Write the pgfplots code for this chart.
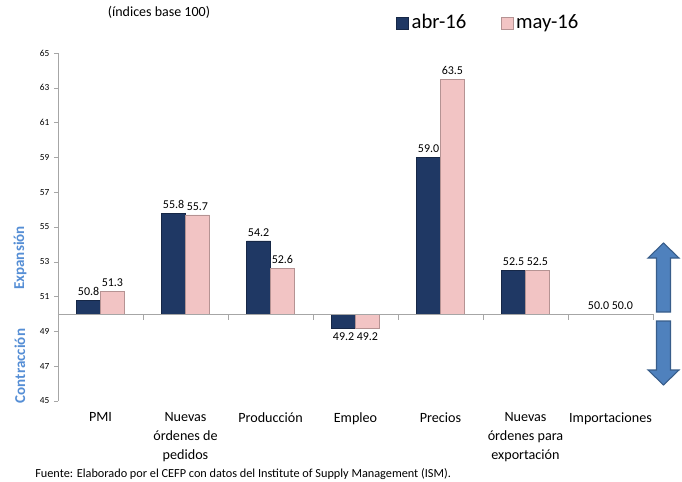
\documentclass[border=0pt]{standalone}
\usepackage{pgfplots}
\pgfplotsset{compat=1.18}
\usepackage{pgfplotstable}
\usepackage{fontspec}
\setmainfont{Carlito}

\definecolor{navy}{RGB}{31,56,100}
\definecolor{pinkb}{RGB}{242,196,196}
\definecolor{lblue}{RGB}{85,142,213}
\definecolor{arrowblue}{RGB}{79,129,189}
\definecolor{arrowedge}{RGB}{56,93,138}

\pgfplotstableread{
x v
0 50.8
1 55.8
2 54.2
3 49.2
4 59.0
5 52.5
6 50.0
}\abr
\pgfplotstableread{
x v
0 51.3
1 55.7
2 52.6
3 49.2
4 63.5
5 52.5
6 50.0
}\may

\begin{document}
\begin{tikzpicture}
\useasboundingbox (0,0) rectangle (511.5pt,-361.5pt);
\begin{axis}[
  at={(43.5pt,-300.75pt)}, anchor=south west,
  scale only axis, width=446.25pt, height=261pt,
  xmin=-0.5, xmax=6.5, ymin=-5, ymax=15,
  axis y line*=left, axis x line*=bottom,
  x axis line style={draw=none},
  y axis line style={draw=gray!70},
  ytick={-5,-3,...,15},
  yticklabels={45,47,49,51,53,55,57,59,61,63,65},
  yticklabel style={font=\fontsize{7}{8}\selectfont},
  ytick style={draw=gray!70},
  tick align=outside, major tick length=3pt,
  xtick={0,...,6}, xtick style={draw=none},
  xticklabels={PMI,{Nuevas\\órdenes de\\pedidos},Producción,Empleo,Precios,{Nuevas\\órdenes para\\exportación},Importaciones},
  xticklabel style={align=center, font=\fontsize{10.6}{14.3}\selectfont, anchor=north, yshift=-2pt},
  ybar=0pt, bar width=0.28,
  point meta=y,
  nodes near coords={\pgfkeys{/pgf/fpu=true}\pgfmathparse{\pgfplotspointmeta+50}\pgfmathprintnumber[fixed,fixed zerofill,precision=1,assume math mode=true]{\pgfmathresult}},
  nodes near coords style={font=\fontsize{9}{11}\selectfont, text=black, inner xsep=1pt},
  legend style={draw=none, fill=none, legend columns=2, at={(0.724,1.089)}, anchor=center,
    font=\fontsize{15.5}{17}\selectfont, /tikz/every even column/.append style={column sep=24pt}},
  legend image code/.code={\draw[#1] (0pt,-5.5pt) rectangle (9pt,3.5pt);},
  clip=false,
]
\addplot[fill=navy, draw=navy!70!black] table[x=x, y expr=\thisrow{v}-50]{\abr};
\addplot[fill=pinkb, draw=pinkb!75!black] table[x=x, y expr=\thisrow{v}-50]{\may};
\legend{abr-16, may-16}
\draw[gray!70] (axis cs:-0.5,0) -- (axis cs:6.5,0);
\pgfplotsinvokeforeach{0.5,1.5,2.5,3.5,4.5,5.5,6.5}{\draw[gray!70] (axis cs:#1,0) -- ++(0pt,-4.5pt);}
\end{axis}
\node[rotate=90, font=\bfseries\fontsize{11.3}{13}\selectfont, text=lblue] at (15pt,-193.5pt) {Expansión};
\node[rotate=90, font=\bfseries\fontsize{11.3}{13}\selectfont, text=lblue] at (15pt,-274.5pt) {Contracción};
\begin{scope}[x=0.75pt, y=-0.75pt]
\filldraw[fill=arrowblue, draw=arrowedge, line width=0.8pt] (656.5,312) -- (656.5,258) -- (648,258) -- (663.5,243) -- (679,258) -- (670.5,258) -- (670.5,312) -- cycle;
\filldraw[fill=arrowblue, draw=arrowedge, line width=0.8pt] (656.5,321) -- (670.5,321) -- (670.5,370) -- (679,370) -- (663.5,385) -- (648,370) -- (656.5,370) -- cycle;
\node[font=\fontsize{10.5}{12}\selectfont] at (159,12) {(índices base 100)};
\node[anchor=west, font=\fontsize{9.2}{11}\selectfont, inner sep=0pt] at (35,474) {Fuente: Elaborado por el CEFP con datos del Institute of Supply Management (ISM).};
\end{scope}
\end{tikzpicture}
\end{document}
